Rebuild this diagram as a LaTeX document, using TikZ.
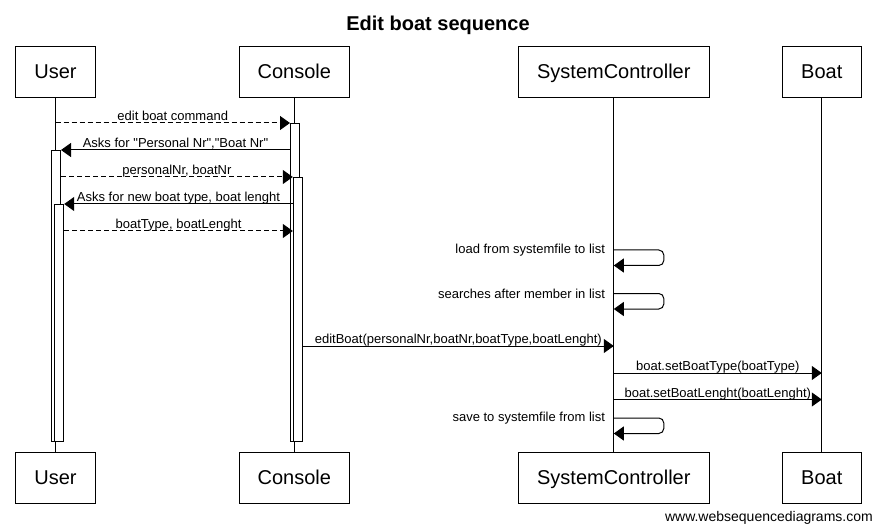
\documentclass[tikz,border=0pt]{standalone}
\usepackage{fontspec}
\setmainfont{Liberation Sans}
\usetikzlibrary{arrows.meta,calc}

\tikzset{
	actor/.style={draw, line width=1pt, minimum height=51pt, inner sep=0pt, text height=16pt, text depth=3pt, font=\fontsize{20}{24}\selectfont},
	actbar/.style={draw, fill=white, line width=1pt, minimum width=9pt, inner sep=0pt, anchor=north},
	lifeline/.style={line width=1pt},
	msg/.style={line width=1pt, -{Triangle[length=10pt,width=14pt]}},
	dmsg/.style={msg, dash pattern=on 5pt off 3pt},
	lbl/.style={midway, anchor=base, yshift=2.5pt, inner sep=0pt, font=\fontsize{13}{15}\selectfont},
	selflbl/.style={left=5pt, font=\fontsize{13}{15}\selectfont}
}

\begin{document}
\begin{tikzpicture}[x=1pt,y=-1pt]
		\useasboundingbox (0,0) rectangle (874,526);
		
		% Title
		\node[anchor=base, font=\bfseries\fontsize{20}{24}\selectfont] (title) at (438,30.5) {Edit boat sequence};
		
		% Participants, top and bottom
		\node[actor, minimum width=80pt] (userT) at (55.5,72) {User};
		\node[actor, minimum width=110pt] (consT) at (294.3,72) {Console};
		\node[actor, minimum width=191pt] (sysT) at (613.8,72) {SystemController};
		\node[actor, minimum width=79pt] (boatT) at (821.8,72) {Boat};
		
		\node[actor, minimum width=80pt] (userB) at (55.5,477.5) {User};
		\node[actor, minimum width=110pt] (consB) at (294.3,477.5) {Console};
		\node[actor, minimum width=191pt] (sysB) at (613.8,477.5) {SystemController};
		\node[actor, minimum width=79pt] (boatB) at (821.8,477.5) {Boat};
		
		% Lifelines
		\draw[lifeline] (userT) -- (userB);
		\draw[lifeline] (consT) -- (consB);
		\draw[lifeline] (sysT) -- (sysB);
		\draw[lifeline] (boatT) -- (boatB);
		
		% Activation bars
		\node[actbar, minimum height=291pt] (ub1) at (56,150) {};
		\node[actbar, minimum height=237pt] (ub2) at (59.2,204) {};
		\node[actbar, minimum height=318pt] (cb1) at (295,123) {};
		\node[actbar, minimum height=264pt] (cb2) at (297.8,177) {};
		
		% Messages between User and Console
		\draw[dmsg] (userT.south |- cb1.north) -- (cb1.north west) node[lbl] {edit boat command};
		\draw[msg] (cb1.west |- ub1.north) -- (ub1.north east) node[lbl] {Asks for \textquotedbl Personal Nr\textquotedbl,\textquotedbl Boat Nr\textquotedbl};
		\draw[dmsg] (ub1.east |- cb2.north) -- (cb2.north west) node[lbl] {personalNr, boatNr};
		\draw[msg] (cb2.west |- ub2.north) -- (ub2.north east) node[lbl] {Asks for new boat type, boat lenght};
		\draw[dmsg] (ub2.east |- 0,231) -- (cb2.west |- 0,231) node[lbl] {boatType, boatLenght};
		
		% Self messages and calls of the SystemController
		\draw[msg, rounded corners=5pt] (sysT.south |- 0,250) node[selflbl] {load from systemfile to list}
			-- ++(50,0) -- ++(0,15.5) -- ++(-50,0);
		\draw[msg, rounded corners=5pt] (sysT.south |- 0,293.5) node[selflbl] {searches after member in list}
			-- ++(50,0) -- ++(0,15.5) -- ++(-50,0);
		\draw[msg] (cb2.east |- 0,346) -- (sysT.south |- 0,346) node[lbl] {editBoat(personalNr,boatNr,boatType,boatLenght)};
		\draw[msg] (sysT.south |- 0,373) -- (boatT.south |- 0,373) node[lbl] {boat.setBoatType(boatType)};
		\draw[msg] (sysT.south |- 0,399.5) -- (boatT.south |- 0,399.5) node[lbl] {boat.setBoatLenght(boatLenght)};
		\draw[msg, rounded corners=5pt] (sysT.south |- 0,418) node[selflbl] {save to systemfile from list}
			-- ++(50,0) -- ++(0,15.5) -- ++(-50,0);
		
		% Footer
		\node[anchor=base east, inner sep=0pt, font=\fontsize{14}{16}\selectfont] (footer) at (873,521.5) {www.websequencediagrams.com};
		
	\end{tikzpicture}
\end{document}
